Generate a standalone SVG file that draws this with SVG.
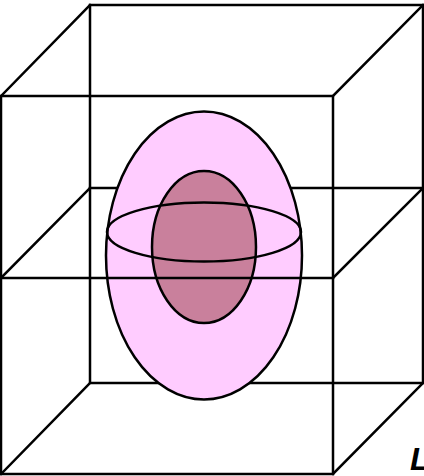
<svg xmlns="http://www.w3.org/2000/svg" width="424" height="476" viewBox="0 0 424 476">
<style>
.edge{stroke:#000;stroke-width:2.5;fill:none;stroke-linecap:square}
.shape{stroke:#000;stroke-width:2.5}
.lbl{font-family:"Liberation Sans",Arial,sans-serif;font-weight:bold;font-style:italic;font-size:32px;fill:#000}
</style>
<rect width="424" height="476" fill="#fff"/>
<g id="connectors">
<g id="back-lines">
<rect class="edge" x="90" y="5" width="333" height="378"/>
<line class="edge" x1="90" y1="188" x2="423" y2="188"/>
<line class="edge" x1="1" y1="96" x2="90" y2="5"/>
<line class="edge" x1="333" y1="96" x2="423" y2="5"/>
<line class="edge" x1="1" y1="278" x2="90" y2="188"/>
<line class="edge" x1="333" y1="278" x2="423" y2="188"/>
<line class="edge" x1="1" y1="474" x2="90" y2="383"/>
<line class="edge" x1="333" y1="474" x2="423" y2="383"/>
</g>
</g>
<g id="outer-ellipse"><ellipse class="shape" cx="204" cy="255.5" rx="98" ry="144" fill="#FFCCFF"/></g>
<g id="inner-ellipse"><ellipse class="shape" cx="204" cy="247" rx="52" ry="76" fill="#C9809C"/></g>
<g id="ring-ellipse"><ellipse class="shape" cx="204" cy="232" rx="97" ry="29.5" fill="none"/></g>
<g id="front-lines">
<rect class="edge" x="1" y="96" width="332" height="378"/>
<line class="edge" x1="1" y1="278" x2="333" y2="278"/>
</g>
<g id="label"><text class="lbl" x="410" y="470">L</text></g>
</svg>
